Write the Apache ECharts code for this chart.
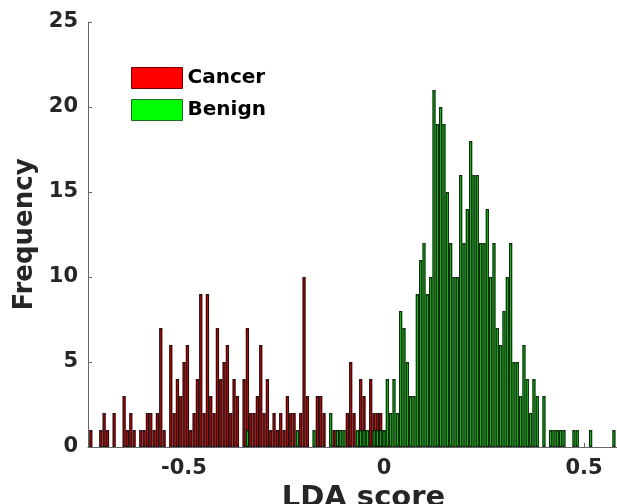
<!DOCTYPE html>
<html>
<head>
<meta charset="utf-8">
<script src="https://cdn.jsdelivr.net/npm/echarts@6/dist/echarts.min.js"></script>
<style>
  html, body { margin: 0; padding: 0; background: #fff; }
  #chart { width: 617px; height: 504px; }
</style>
</head>
<body>
<div id="chart"></div>
<script>
// histogram bins (LDA score), bin k centre = firstBinCenter + k * binWidth
const firstBinCenter = -0.733;
const binWidth = 0.00833;
const xTicks = [-0.5, 0, 0.5];

// counts per bin, cancer from bin 0
const cancerCounts = [
  1, 0, 0, 1, 2, 1, 0, 2, 0, 0,
  3, 1, 2, 1, 0, 1, 1, 2, 2, 1,
  2, 7, 1, 0, 6, 2, 4, 3, 5, 6,
  1, 2, 4, 9, 2, 9, 3, 2, 7, 4,
  5, 6, 2, 4, 3, 0, 4, 7, 2, 2,
  3, 6, 2, 4, 1, 2, 1, 2, 1, 3,
  2, 2, 0, 2, 10, 3, 0, 0, 3, 3,
  2, 0, 0, 1, 1, 0, 0, 2, 5, 2,
  0, 4, 3, 0, 4, 2, 2, 2, 1
];
// benign from bin 47
const benignStartBin = 47;
const benignCounts = [
  1, 0, 0, 0, 0, 0, 0, 0, 0, 0, 0, 0, 0, 0, 0,
  1, 0, 0, 0, 0, 1, 0, 0, 0, 0, 2, 0, 1, 1, 1,
  0, 0, 0, 1, 1, 1, 1, 0, 1, 1, 1, 1,
  4, 2, 4, 2, 8, 7, 5, 3, 3, 9, 11, 12, 9, 10, 21, 19, 20, 19, 15,
  12, 10, 10, 16, 12, 14, 18, 16, 16, 12, 12, 14, 10, 12, 7, 6, 8, 10,
  12, 5, 5, 3, 6, 4, 2, 4, 3, 0, 3, 0, 1, 1, 1, 1, 1, 0, 0, 1, 1,
  0, 0, 0, 1, 0, 0, 0, 0, 0, 0, 1
];

const toBars = (counts, start) =>
  counts
    .map((c, i) => [firstBinCenter + (start + i) * binWidth, c])
    .filter(d => d[1] > 0);

const chart = echarts.init(document.getElementById("chart"));
const txt = "#262626";
const fontFamily = "'DejaVu Sans', sans-serif";

chart.setOption({
  animation: false,
  grid: { left: 88, right: 0, top: 22, bottom: 57, outerBoundsMode: "none" },
  legend: {
    orient: "vertical",
    left: 126,
    top: 62,
    itemWidth: 51,
    itemHeight: 21,
    itemGap: 10,
    icon: "rect",
    textStyle: { fontFamily, fontWeight: "bold", fontSize: 20, color: "#000" },
    data: [
      { name: "Cancer", itemStyle: { color: "#ff0000", borderColor: "#7a0000", borderWidth: 1 } },
      { name: "Benign", itemStyle: { color: "#00ff00", borderColor: "#1c6b1c", borderWidth: 1 } }
    ]
  },
  xAxis: {
    type: "value",
    min: -0.74,
    max: 0.5825,
    name: "LDA score",
    nameLocation: "middle",
    nameGap: 27,
    nameTextStyle: { fontFamily, fontWeight: "bold", fontSize: 29, color: txt, padding: [0, 0, 0, 22] },
    splitLine: { show: false },
    axisLine: { show: true, lineStyle: { color: "#666", width: 1 } },
    axisTick: { show: true, inside: true, length: 4, customValues: xTicks, lineStyle: { color: "#666" } },
    axisLabel: {
      customValues: xTicks,
      margin: 11,
      fontFamily,
      fontWeight: "bold",
      fontSize: 21,
      color: txt,
      formatter: v => String(v)
    }
  },
  yAxis: {
    type: "value",
    min: 0,
    max: 25,
    interval: 5,
    name: "Frequency",
    nameLocation: "middle",
    nameGap: 40,
    nameTextStyle: { fontFamily, fontWeight: "bold", fontSize: 26, color: txt },
    splitLine: { show: false },
    axisLine: { show: true, onZero: false, lineStyle: { color: "#666", width: 1 } },
    axisTick: { show: true, inside: true, length: 4, lineStyle: { color: "#666" } },
    axisLabel: { margin: 10, fontFamily, fontWeight: "bold", fontSize: 21, color: txt }
  },
  series: [
    {
      name: "Cancer",
      type: "bar",
      barWidth: 3.33,
      barGap: "-100%",
      itemStyle: { color: "#ff0000", borderColor: "rgba(20,0,0,0.9)", borderWidth: 1.3 },
      data: toBars(cancerCounts, 0)
    },
    {
      name: "Benign",
      type: "bar",
      barWidth: 3.33,
      barGap: "-100%",
      itemStyle: { color: "#00ff00", borderColor: "rgba(0,20,0,0.9)", borderWidth: 1.3 },
      data: toBars(benignCounts, benignStartBin)
    }
  ]
});
window.addEventListener("resize", chart.resize);
</script>
</body>
</html>
